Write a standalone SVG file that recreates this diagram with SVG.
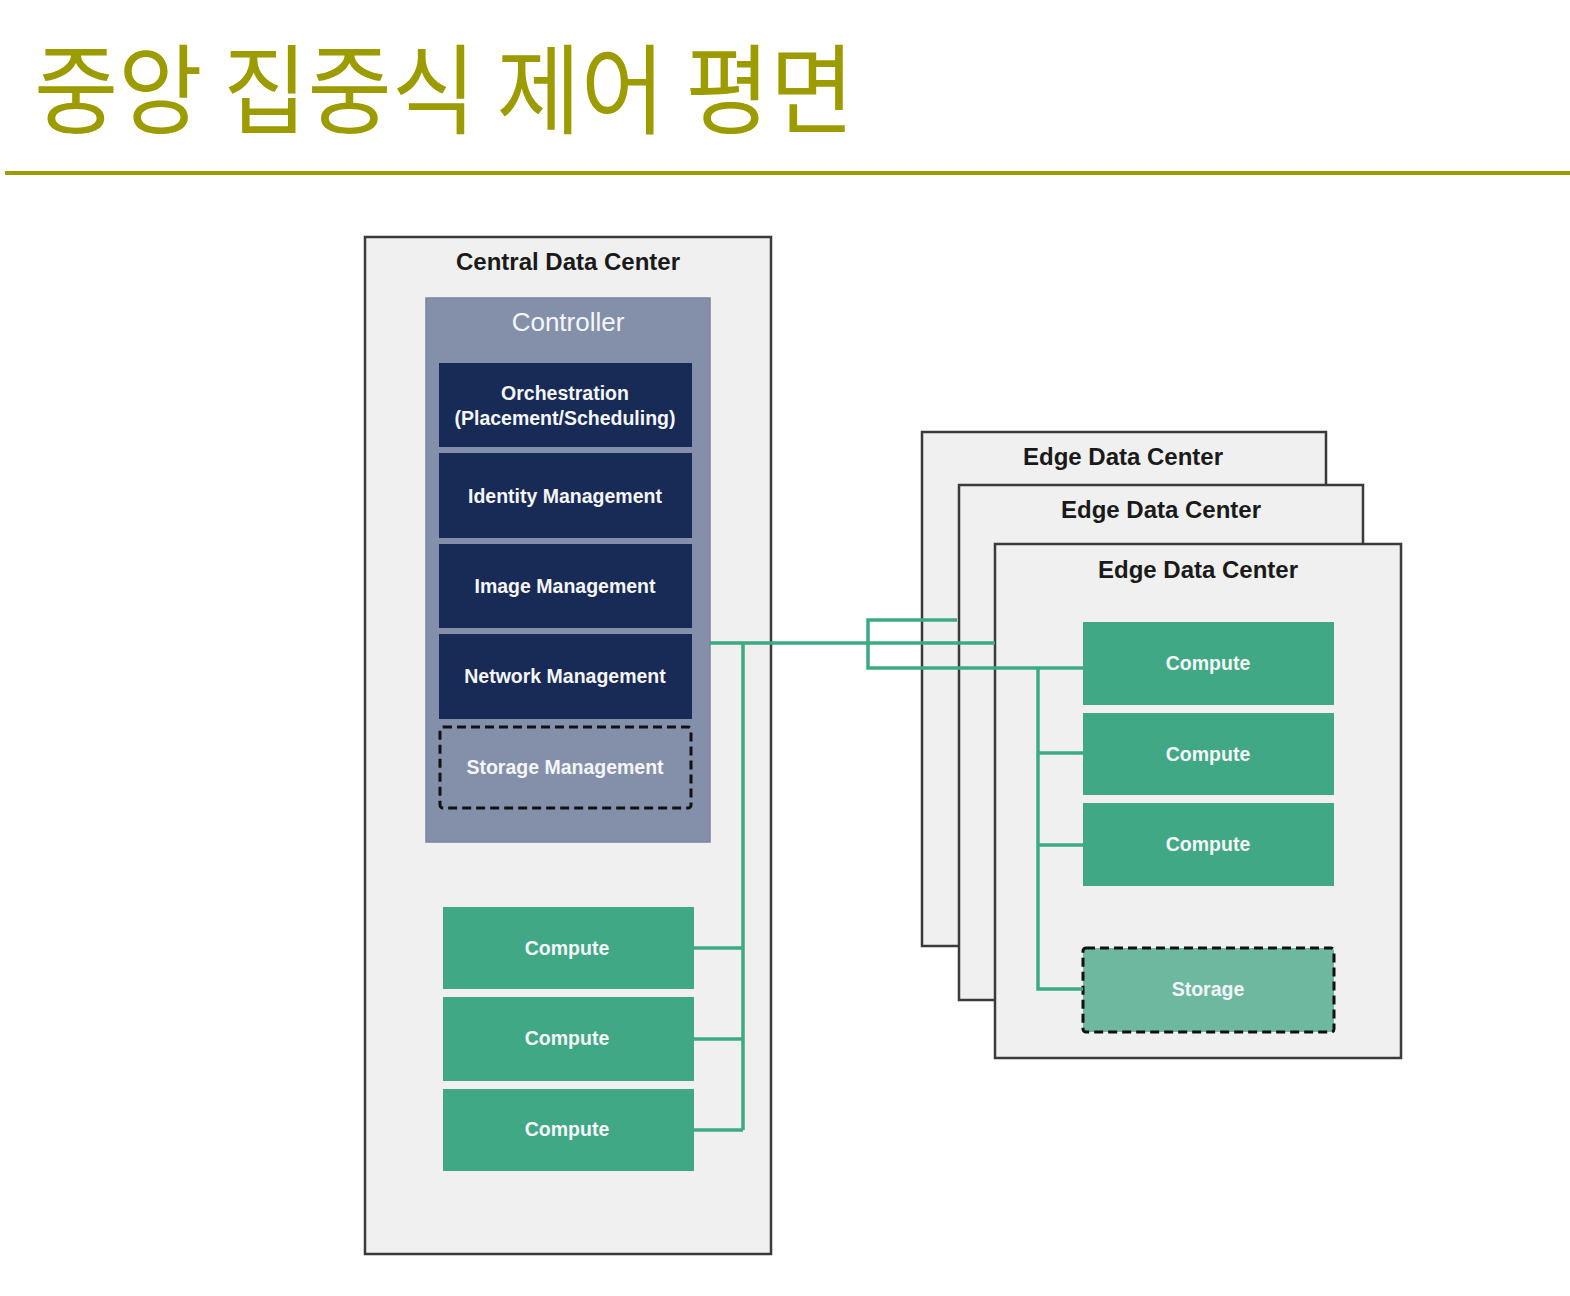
<svg xmlns="http://www.w3.org/2000/svg" width="1570" height="1296" viewBox="0 0 1570 1296">
<style>
.dc{fill:#f0f0f0;stroke:#3a3a3a;stroke-width:2.5}
.dct{font-family:"Liberation Sans",Arial,sans-serif;font-weight:bold;font-size:24px;fill:#1a1a1a;text-anchor:middle}
.ctrl{fill:#8490aa;stroke:#7a86a0;stroke-width:1.5}
.ctrlt{font-family:"Liberation Sans",Arial,sans-serif;font-size:26px;fill:#f4f6fa;text-anchor:middle}
.mod{fill:#182a56}
.lbl{font-family:"Liberation Sans",Arial,sans-serif;font-weight:bold;font-size:19.5px;fill:#f4f6f8;text-anchor:middle}
.cmp{fill:#41a886}
.stor{fill:#6fb8a0;stroke:#111;stroke-width:3;stroke-dasharray:9 5}
.smg{fill:#8490aa;stroke:#111;stroke-width:3;stroke-dasharray:9 5}
.ln{fill:none;stroke:#3daa82;stroke-width:3.5}
</style>
<rect width="1570" height="1296" fill="#ffffff"/>
<g id="title">
<text x="0" y="126" transform="translate(34 0) scale(0.935 1)" font-family="'Noto Sans CJK KR',sans-serif" font-size="98" fill="#9c9c00">중앙 집중식 제어 평면</text>
<line x1="5" y1="173" x2="1570" y2="173" stroke="#9c9c00" stroke-width="4"/>
</g>
<g id="central-dc">
<rect class="dc" x="365" y="237" width="406" height="1017"/>
<text class="dct" x="568" y="270">Central Data Center</text>
</g>
<g id="controller">
<rect class="ctrl" x="426" y="298" width="284" height="544"/>
<text class="ctrlt" x="568" y="331">Controller</text>
</g>
<g id="orchestration">
<rect class="mod" x="439" y="363" width="253" height="84"/>
<text class="lbl" x="565" y="400">Orchestration</text>
<text class="lbl" x="565" y="425">(Placement/Scheduling)</text>
</g>
<g id="identity">
<rect class="mod" x="439" y="453" width="253" height="85"/>
<text class="lbl" x="565" y="503">Identity Management</text>
</g>
<g id="image">
<rect class="mod" x="439" y="544" width="253" height="84"/>
<text class="lbl" x="565" y="593">Image Management</text>
</g>
<g id="network">
<rect class="mod" x="439" y="634" width="253" height="85"/>
<text class="lbl" x="565" y="683">Network Management</text>
</g>
<g id="storage-mgmt">
<rect class="smg" x="440" y="727" width="251" height="81" rx="3"/>
<text class="lbl" x="565" y="774">Storage Management</text>
</g>
<g id="c-compute-1">
<rect class="cmp" x="443" y="907" width="251" height="82"/>
<text class="lbl" x="567" y="955">Compute</text>
</g>
<g id="c-compute-2">
<rect class="cmp" x="443" y="997" width="251" height="84"/>
<text class="lbl" x="567" y="1045">Compute</text>
</g>
<g id="c-compute-3">
<rect class="cmp" x="443" y="1089" width="251" height="82"/>
<text class="lbl" x="567" y="1136">Compute</text>
</g>
<g id="edge-dc-1">
<rect class="dc" x="922" y="432" width="404" height="514"/>
<text class="dct" x="1123" y="465">Edge Data Center</text>
</g>
<g id="edge-dc-2">
<rect class="dc" x="959" y="485" width="404" height="515"/>
<text class="dct" x="1161" y="518">Edge Data Center</text>
</g>
<g id="edge-dc-3">
<rect class="dc" x="995" y="544" width="406" height="514"/>
<text class="dct" x="1198" y="578">Edge Data Center</text>
</g>
<g id="e-compute-1">
<rect class="cmp" x="1083" y="622" width="251" height="83"/>
<text class="lbl" x="1208" y="670">Compute</text>
</g>
<g id="e-compute-2">
<rect class="cmp" x="1083" y="713" width="251" height="82"/>
<text class="lbl" x="1208" y="761">Compute</text>
</g>
<g id="e-compute-3">
<rect class="cmp" x="1083" y="803" width="251" height="83"/>
<text class="lbl" x="1208" y="851">Compute</text>
</g>
<g id="e-storage">
<rect class="stor" x="1083" y="948" width="251" height="84" rx="3"/>
<text class="lbl" x="1208" y="996">Storage</text>
</g>
<g id="connectors">
<line class="ln" x1="710" y1="643" x2="995" y2="643"/>
<path class="ln" d="M743 643 V1130"/>
<path class="ln" d="M694 948 H743 M694 1039 H743 M694 1130 H743"/>
<path class="ln" d="M957 620 H868 V668 H1083"/>
<path class="ln" d="M1038 668 V989 H1083 M1038 753 H1083 M1038 845 H1083"/>
</g>
</svg>
